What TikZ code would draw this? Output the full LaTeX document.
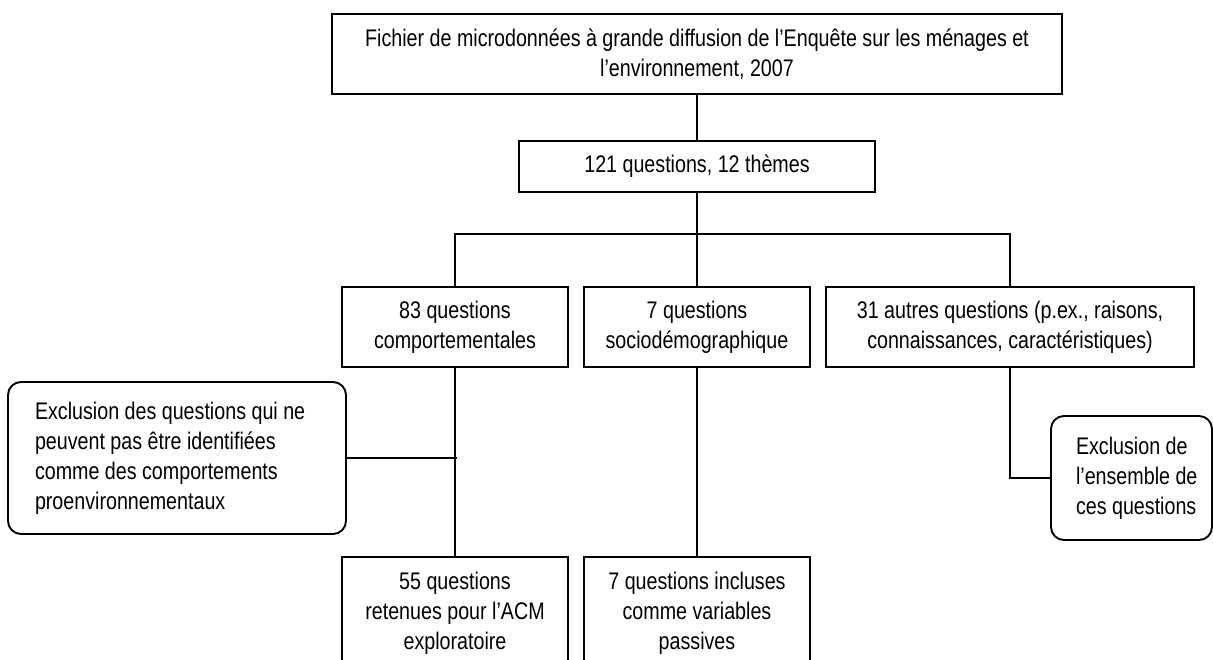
\documentclass[tikz,border=0pt]{standalone}
\usepackage{fontspec}
\setmainfont{Liberation Sans}[FakeStretch=0.82]
\begin{document}
\begin{tikzpicture}[x=1pt,y=-1pt,
  txt/.style={font=\fontsize{24}{30}\selectfont},
  box/.style={txt, draw, line width=1.9pt, inner sep=0pt, align=center},
  rbox/.style={txt, draw, line width=1.9pt, rounded corners=13pt, inner sep=0pt, align=flush left},
  conn/.style={line width=1.9pt}]
\useasboundingbox (0,0) rectangle (1213,660);
\clip (-2,-2) rectangle (1215,662);
\node[box, minimum width=730, minimum height=80] (top) at (697,54)
  {Fichier de microdonnées à grande diffusion de l’Enquête sur les ménages et\\ l’environnement, 2007};
\node[box, minimum width=356, minimum height=51] (q121) at (697,166.5) {121 questions, 12 thèmes};
\node[box, minimum width=226, minimum height=80] (comp) at (455,327) {83 questions\\comportementales};
\node[box, minimum width=226, minimum height=80] (socio) at (697,327) {7 questions\\sociodémographique};
\node[box, minimum width=368, minimum height=80] (autres) at (1010,327) {31 autres questions (p.ex., raisons,\\connaissances, caractéristiques)};
\node[rbox, minimum width=338, minimum height=152, text width=284] (excl1) at (177,458)
  {\mbox{Exclusion des questions qui ne}\\\mbox{peuvent pas être identifiées}\\\mbox{comme des comportements}\\\mbox{proenvironnementaux}};
\node[rbox, minimum width=161, minimum height=124, text width=111] (excl2) at (1131.5,478)
  {\mbox{Exclusion de}\\\mbox{l’ensemble de}\\\mbox{ces questions}};
\node[box, anchor=north, minimum width=226, minimum height=140,
  label={[txt, anchor=north, align=center, yshift=-13pt]north:55 questions\\retenues pour l’ACM\\exploratoire}] (c55) at (455,556) {};
\node[box, anchor=north, minimum width=226, minimum height=140,
  label={[txt, anchor=north, align=center, yshift=-13pt]north:7 questions incluses\\comme variables\\passives}] (incl) at (697,556) {};
\draw[conn] (top.south) -- (q121.north);
\draw[conn] (q121.south) -- (socio.north);
\draw[conn] (comp.north) -- ++(0,-52) -| (autres.north);
\draw[conn] (comp.south) -- (c55.north);
\draw[conn] (excl1.east) -- ([xshift=2pt]excl1.east -| comp.south);
\draw[conn] (socio.south) -- (incl.north);
\draw[conn] (autres.south) |- (excl2.west);
\end{tikzpicture}
\end{document}
